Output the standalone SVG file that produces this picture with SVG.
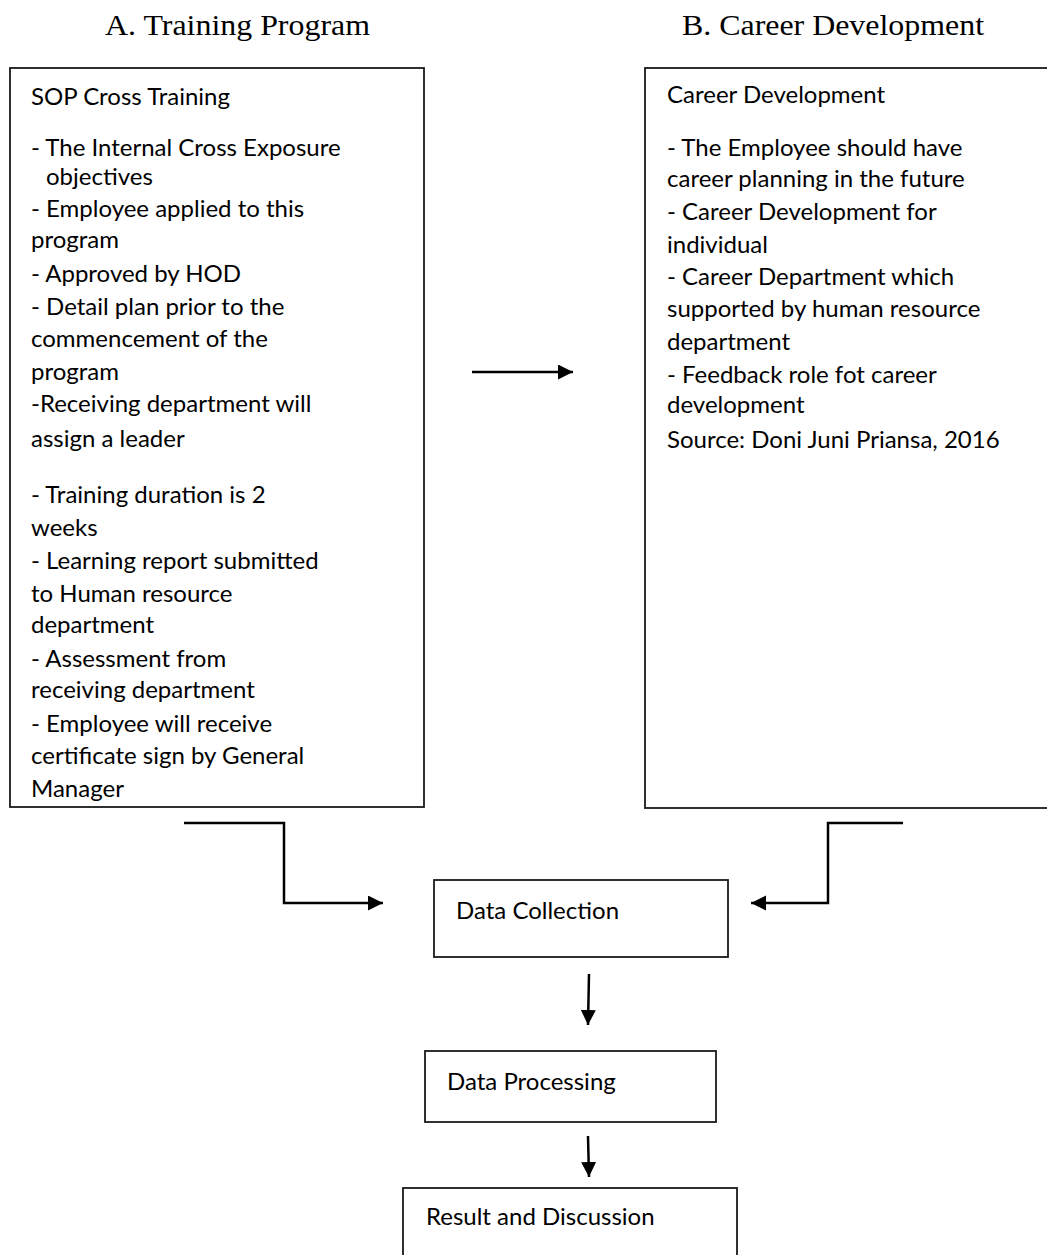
<svg xmlns="http://www.w3.org/2000/svg" width="1047" height="1255" viewBox="0 0 1047 1255">
<style>
.title{font-family:"Liberation Serif","Times New Roman",serif;font-size:30px;fill:#000}
.body{font-family:Lato,"Liberation Sans",sans-serif;font-size:24px;fill:#000}
.box{fill:#fff;stroke:#1a1a1a;stroke-width:1.8}
.conn{fill:none;stroke:#000;stroke-width:2.5}
</style>
<defs>
<marker id="ah" markerUnits="userSpaceOnUse" markerWidth="16" markerHeight="16" refX="15" refY="7.5" orient="auto">
<path d="M0,0 L15,7.5 L0,15 Z" fill="#000"/>
</marker>
</defs>
<rect width="1047" height="1255" fill="#fff"/>
<text class="title" x="105" y="35" textLength="265" lengthAdjust="spacingAndGlyphs">A. Training Program</text>
<text class="title" x="682" y="35" textLength="302" lengthAdjust="spacingAndGlyphs">B. Career Development</text>

<g id="training">
<rect class="box" x="10" y="68" width="414" height="739"/>
<text class="body" x="31" y="105">SOP Cross Training</text>
<text class="body" x="31" y="156">- The Internal Cross Exposure</text>
<text class="body" x="46" y="185">objectives</text>
<text class="body" x="31" y="217">- Employee applied to this</text>
<text class="body" x="31" y="248">program</text>
<text class="body" x="31" y="282">- Approved by HOD</text>
<text class="body" x="31" y="315">- Detail plan prior to the</text>
<text class="body" x="31" y="347">commencement of the</text>
<text class="body" x="31" y="380">program</text>
<text class="body" x="31" y="412">-Receiving department will</text>
<text class="body" x="31" y="447">assign a leader</text>
<text class="body" x="31" y="503">- Training duration is 2</text>
<text class="body" x="31" y="536">weeks</text>
<text class="body" x="31" y="569">- Learning report submitted</text>
<text class="body" x="31" y="602">to Human resource</text>
<text class="body" x="31" y="633">department</text>
<text class="body" x="31" y="667">- Assessment from</text>
<text class="body" x="31" y="698">receiving department</text>
<text class="body" x="31" y="732">- Employee will receive</text>
<text class="body" x="31" y="764">certificate sign by General</text>
<text class="body" x="31" y="797">Manager</text>
</g>

<g id="career">
<rect class="box" x="645" y="68" width="410" height="740"/>
<text class="body" x="667" y="103">Career Development</text>
<text class="body" x="667" y="156">- The Employee should have</text>
<text class="body" x="667" y="187">career planning in the future</text>
<text class="body" x="667" y="220">- Career Development for</text>
<text class="body" x="667" y="253">individual</text>
<text class="body" x="667" y="285">- Career Department which</text>
<text class="body" x="667" y="317">supported by human resource</text>
<text class="body" x="667" y="350">department</text>
<text class="body" x="667" y="383">- Feedback role fot career</text>
<text class="body" x="667" y="413">development</text>
<text class="body" x="667" y="448">Source: Doni Juni Priansa, 2016</text>
</g>

<g id="collection">
<rect class="box" x="434" y="880" width="294" height="77"/>
<text class="body" x="456" y="919">Data Collection</text>
</g>
<g id="processing">
<rect class="box" x="425" y="1051" width="291" height="71"/>
<text class="body" x="447" y="1090">Data Processing</text>
</g>
<g id="result">
<rect class="box" x="403" y="1188" width="334" height="90"/>
<text class="body" x="426" y="1225">Result and Discussion</text>
</g>

<g id="connectors">
<path class="conn" d="M472,372 H573" marker-end="url(#ah)"/>
<path class="conn" d="M184,823 H284 V903 H383" marker-end="url(#ah)"/>
<path class="conn" d="M903,823 H828 V903 H751" marker-end="url(#ah)"/>
<path class="conn" d="M589,974 L588,1025" marker-end="url(#ah)"/>
<path class="conn" d="M588,1136 L589,1177" marker-end="url(#ah)"/>
</g>
</svg>
